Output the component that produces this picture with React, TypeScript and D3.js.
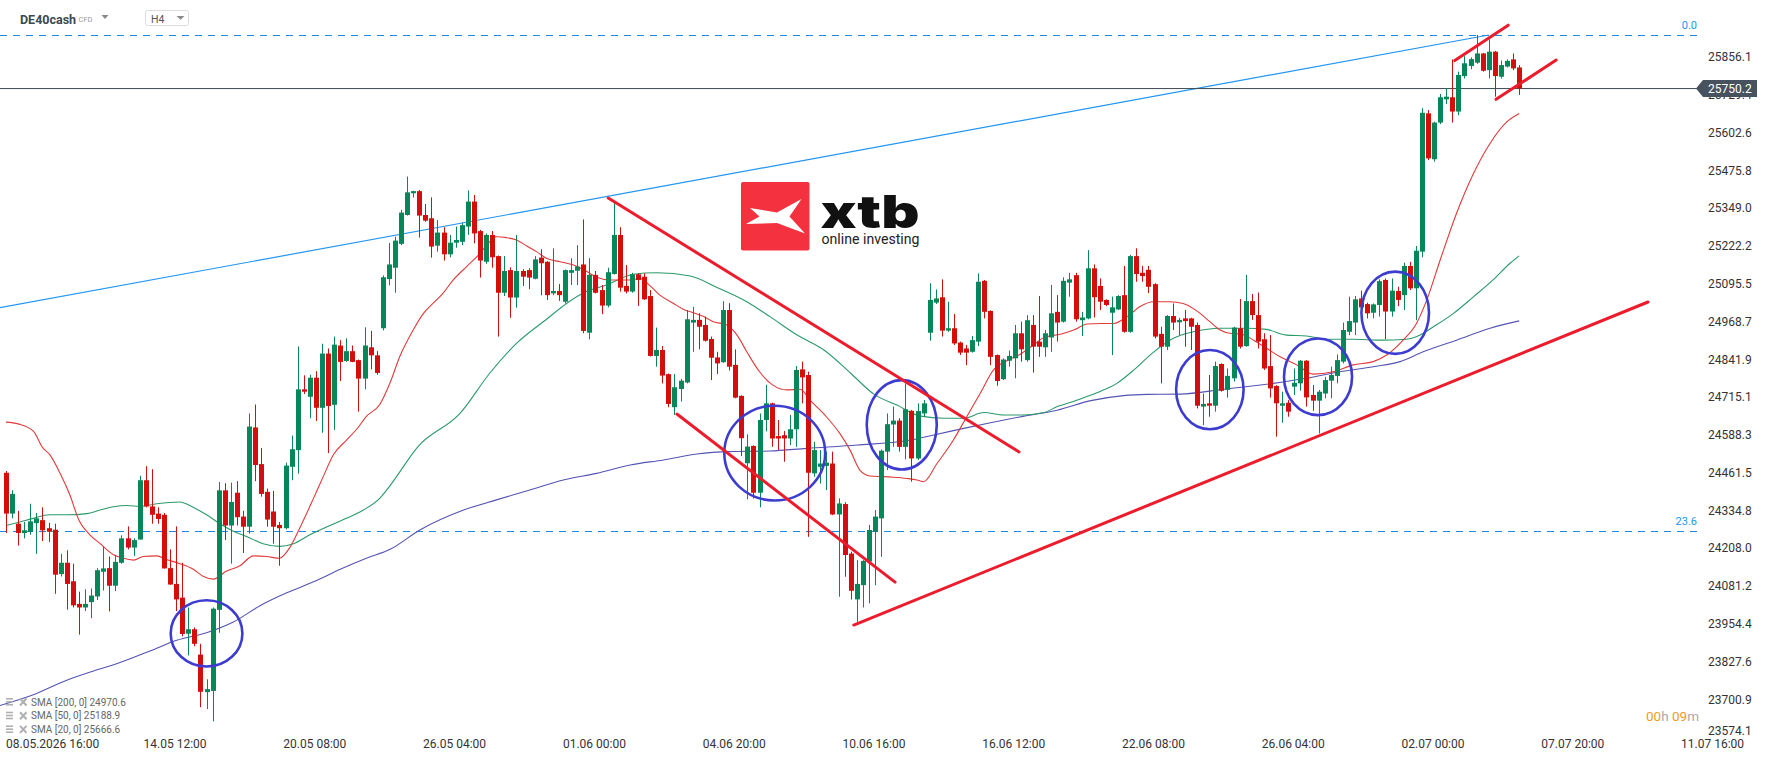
import React from 'react';
import * as d3 from 'd3';

const W = 1768;
const H = 761;

// OHLC per H4 bar: [open, high, low, close]
const barsA: [number, number, number, number][] = [
  [24461, 24467, 24259, 24324], [24324, 24402, 24308, 24390], [24290, 24333, 24217, 24259], [24259, 24296, 24241, 24268],
  [24263, 24357, 24253, 24298], [24292, 24326, 24189, 24308], [24302, 24345, 24232, 24268], [24275, 24293, 24229, 24263],
  [24270, 24290, 24055, 24119], [24121, 24189, 24113, 24159], [24159, 24201, 24002, 24088], [24097, 24156, 24009, 24016],
  [24021, 24062, 23918, 24009], [24009, 24070, 23997, 24021], [24027, 24073, 23973, 24049], [24046, 24141, 24034, 24134],
  [24129, 24214, 24066, 24140], [24141, 24180, 23996, 24082], [24082, 24184, 24064, 24162], [24159, 24251, 24156, 24241],
  [24241, 24281, 24204, 24210], [24210, 24241, 24182, 24235], [24237, 24451, 24237, 24436], [24436, 24483, 24345, 24348],
  [24348, 24473, 24290, 24320], [24324, 24345, 24290, 24306], [24320, 24326, 24140, 24140], [24141, 24204, 24085, 24086],
  [24088, 24281, 23997, 24036], [24042, 24159, 23912, 23920], [23921, 24009, 23848, 23936], [23936, 23942, 23879, 23887],
  [23851, 23887, 23674, 23726], [23725, 23768, 23668, 23735], [23729, 24009, 23627, 24005], [24001, 24430, 23924, 24402],
  [24402, 24426, 24235, 24284], [24284, 24428, 24156, 24363], [24394, 24433, 24284, 24312], [24314, 24333, 24192, 24280],
  [24280, 24660, 24257, 24616], [24613, 24690, 24433, 24487], [24490, 24544, 24381, 24390], [24397, 24408, 24280, 24304],
  [24331, 24400, 24223, 24280], [24286, 24296, 24149, 24275], [24275, 24495, 24271, 24485], [24481, 24586, 24436, 24540],
  [24537, 24885, 24458, 24741], [24741, 24788, 24725, 24733], [24716, 24790, 24644, 24780], [24780, 24802, 24635, 24679],
  [24679, 24894, 24595, 24861], [24861, 24878, 24527, 24685], [24689, 24918, 24605, 24891], [24888, 24906, 24769, 24833],
  [24836, 24912, 24833, 24869], [24869, 24888, 24832, 24833], [24839, 24841, 24666, 24777], [24777, 24949, 24741, 24888],
  [24882, 24937, 24808, 24855], [24855, 24869, 24790, 24796], [24946, 25123, 24939, 25117], [25111, 25232, 25090, 25160],
];
const barsB: [number, number, number, number][] = [
  [25149, 25253, 25065, 25240], [25229, 25343, 25225, 25334], [25326, 25455, 25324, 25402], [25399, 25407, 25385, 25406],
  [25406, 25410, 25250, 25324], [25326, 25363, 25303, 25307], [25315, 25385, 25183, 25220], [25223, 25309, 25203, 25267],
  [25267, 25285, 25173, 25194], [25194, 25259, 25184, 25233], [25233, 25287, 25216, 25242], [25236, 25300, 25225, 25292],
  [25287, 25408, 25259, 25371], [25371, 25393, 25231, 25264], [25272, 25276, 25116, 25173], [25169, 25264, 25162, 25259],
  [25259, 25272, 25149, 25184], [25188, 25190, 24918, 25065], [25065, 25188, 25054, 25138], [25141, 25150, 24981, 25049],
  [25049, 25259, 25015, 25138], [25138, 25144, 25088, 25119], [25141, 25147, 25077, 25116], [25112, 25188, 25110, 25177],
  [25183, 25211, 25057, 25164], [25169, 25171, 25041, 25057], [25063, 25214, 25057, 25071], [25071, 25094, 25038, 25057],
  [25035, 25143, 25029, 25141], [25132, 25181, 25091, 25141], [25139, 25225, 25091, 25153], [25160, 25311, 24929, 24937],
  [24931, 25181, 24909, 25125], [25125, 25138, 25063, 25065], [25074, 25091, 24993, 25022], [25022, 25149, 25016, 25134],
  [25128, 25371, 25126, 25259], [25259, 25285, 25069, 25082], [25088, 25158, 25063, 25069], [25069, 25132, 25065, 25127],
  [25127, 25130, 25021, 25108], [25119, 25130, 25041, 25043], [25054, 25074, 24851, 24853], [24853, 24948, 24817, 24873],
  [24873, 24886, 24761, 24787], [24792, 24794, 24681, 24692], [24681, 24792, 24655, 24748], [24742, 24776, 24700, 24770],
  [24764, 25007, 24761, 24976], [24965, 25018, 24867, 24974], [24974, 24996, 24875, 24951], [24957, 24985, 24901, 24904],
  [24910, 24918, 24772, 24847], [24848, 24867, 24792, 24828], [24832, 25037, 24830, 25007], [25007, 25030, 24804, 24817],
  [24823, 24875, 24711, 24713], [24719, 24721, 24517, 24577], [24493, 24590, 24372, 24549], [24551, 24553, 24375, 24394],
  [24394, 24660, 24345, 24638], [24638, 24756, 24600, 24694],
];
const barsC: [number, number, number, number][] = [
  [24694, 24696, 24548, 24576], [24584, 24638, 24537, 24576], [24587, 24601, 24498, 24576], [24576, 24655, 24554, 24607],
  [24607, 24819, 24548, 24806], [24808, 24834, 24694, 24781], [24789, 24800, 24246, 24461], [24459, 24565, 24448, 24537],
  [24481, 24537, 24425, 24492], [24484, 24532, 24403, 24495], [24492, 24532, 24319, 24321], [24321, 24375, 24045, 24358],
  [24356, 24362, 24112, 24185], [24190, 24196, 24036, 24065], [24036, 24168, 23961, 24088], [24084, 24168, 24009, 24165],
  [24163, 24286, 24023, 24269], [24263, 24336, 24084, 24314], [24308, 24539, 24179, 24535], [24532, 24660, 24470, 24624],
  [24623, 24683, 24548, 24636], [24636, 24644, 24532, 24548], [24548, 24761, 24506, 24674], [24669, 24671, 24431, 24509],
  [24509, 24694, 24504, 24668], [24660, 24705, 24649, 24694], [24931, 25097, 24904, 25041], [25032, 25076, 25027, 25046],
  [25050, 25110, 24918, 24938], [24938, 25035, 24934, 24946], [24946, 24994, 24890, 24895], [24898, 24901, 24856, 24864],
  [24878, 24890, 24822, 24864], [24867, 24920, 24864, 24906], [24901, 25130, 24886, 25102], [25105, 25108, 24979, 25001],
  [25004, 25006, 24822, 24850], [24856, 24858, 24753, 24769], [24775, 24845, 24772, 24841], [24837, 24871, 24817, 24853],
  [24845, 24957, 24778, 24929], [24929, 24968, 24834, 24875], [24839, 24990, 24834, 24973], [24957, 24990, 24797, 24884],
  [24901, 25054, 24850, 24884], [24882, 24940, 24850, 24929], [24915, 25091, 24867, 24996], [25001, 25057, 24901, 24965],
  [24968, 25117, 24965, 25105], [25099, 25132, 25052, 25110], [25124, 25132, 24968, 24976], [24973, 25001, 24920, 24982],
  [24979, 25208, 24976, 25147], [25147, 25160, 24982, 25050], [25088, 25113, 25007, 25035], [25041, 25043, 25020, 25024],
  [24998, 25052, 24856, 25016], [25009, 25057, 25007, 25054], [25057, 25155, 24931, 24934], [24934, 25192, 24931, 25188],
  [25188, 25214, 25102, 25128], [25132, 25155, 25102, 25121], [25142, 25155, 25064, 25085],
];
const barsD: [number, number, number, number][] = [
  [25094, 25097, 24912, 24918], [24927, 24951, 24761, 24884], [24884, 24990, 24873, 24987], [24987, 25029, 24940, 24965],
  [24966, 24981, 24923, 24974], [24979, 25007, 24884, 24970], [24979, 24981, 24873, 24951], [24957, 24965, 24677, 24686],
  [24683, 24727, 24621, 24692], [24694, 24789, 24649, 24686], [24686, 24834, 24666, 24819], [24826, 24828, 24733, 24736],
  [24739, 24811, 24713, 24786], [24778, 24951, 24767, 24948], [24946, 25044, 24878, 24884], [24886, 25125, 24884, 25037],
  [25037, 25061, 24974, 24990], [24990, 25066, 24878, 24901], [24909, 24929, 24806, 24811], [24819, 24923, 24713, 24744],
  [24752, 24755, 24582, 24694], [24686, 24733, 24629, 24694], [24696, 24705, 24649, 24666], [24750, 24811, 24722, 24763],
  [24761, 24839, 24736, 24837], [24837, 24839, 24683, 24714], [24722, 24755, 24669, 24703], [24703, 24739, 24593, 24733],
  [24727, 24783, 24711, 24772], [24770, 24817, 24711, 24789], [24786, 24858, 24761, 24839], [24834, 24965, 24828, 24940],
  [24934, 25052, 24923, 24970], [24965, 25054, 24923, 25043], [25046, 25072, 25007, 25016], [25027, 25032, 24979, 24996],
  [24998, 25029, 24979, 25026], [25024, 25110, 24985, 25104], [25108, 25113, 24909, 25002], [25002, 25113, 24985, 25072],
  [25071, 25085, 25020, 25041], [25057, 25166, 25007, 25155], [25155, 25169, 25074, 25080], [25080, 25222, 24973, 25206],
  [25203, 25684, 25184, 25669], [25667, 25678, 25510, 25516], [25513, 25639, 25505, 25636], [25636, 25732, 25631, 25721],
  [25714, 25751, 25698, 25723], [25721, 25848, 25636, 25673], [25673, 25807, 25661, 25796], [25792, 25859, 25784, 25835],
  [25826, 25855, 25815, 25849], [25837, 25930, 25833, 25868], [25868, 25870, 25807, 25810], [25812, 25915, 25784, 25874],
  [25874, 25876, 25723, 25792], [25790, 25844, 25784, 25829], [25824, 25848, 25821, 25843], [25848, 25868, 25812, 25818],
  [25821, 25829, 25729, 25750.2],
];

// moving averages sampled along the bar axis: [bar, value]
const sma20: [number, number][] = [
  [0, 24631], [2, 24625], [4.5, 24601], [6, 24546], [7.2, 24522], [9, 24455], [10.5, 24387], [12, 24302], [13.8, 24253],
  [15.5, 24223], [17.7, 24186], [19.3, 24174], [21, 24168], [22.6, 24180], [24.8, 24182], [26.4, 24170], [28.6, 24156],
  [30.8, 24137], [32.5, 24113], [34.1, 24104], [36.3, 24131], [38.5, 24149], [40.7, 24182], [42.9, 24180], [45, 24174],
  [46.7, 24210], [48.4, 24278], [50.6, 24375], [52.2, 24448], [53.9, 24522], [56, 24570], [57.7, 24607], [59.3, 24650],
  [61.5, 24690], [63.2, 24763], [64.8, 24851], [67, 24940], [68.7, 24996], [70.3, 25030], [71.9, 25063], [73.6, 25108],
  [75.8, 25153], [78, 25197], [79.6, 25236], [80.7, 25253], [82.4, 25250], [84, 25242], [85.7, 25222], [87.3, 25203],
  [89, 25180], [91.2, 25169], [93.4, 25158], [95.6, 25136], [97.2, 25117], [99.4, 25108], [101, 25108], [102.7, 25108],
  [104.3, 25113], [106, 25088], [107.6, 25057], [109.8, 25030], [111.5, 25009], [113.1, 24998], [114.8, 24985],
  [116.4, 24968], [118.6, 24957], [120.3, 24923], [121.9, 24867], [124, 24800], [126.2, 24755], [128.5, 24739],
  [130.7, 24741], [132.3, 24705], [135, 24649], [137.2, 24593], [138.9, 24537], [140.5, 24470], [142.2, 24450],
  [144.4, 24448], [146, 24446], [148.2, 24442], [149.9, 24437], [151, 24431], [153.2, 24492], [155.9, 24571],
  [158.1, 24649], [160.3, 24727], [162.5, 24806], [164.7, 24837], [166.9, 24859], [169.1, 24890], [170.8, 24915],
  [173.5, 24926], [175.7, 24940], [177.9, 24960], [180.1, 24962], [182.3, 24962], [184.5, 24985], [186.7, 25020],
  [188.8, 25035], [191.5, 25035], [193.7, 25029], [196.5, 24996], [198.1, 24968], [199.8, 24940], [201.4, 24929],
  [203.1, 24927], [205.3, 24906], [207.4, 24879], [209.6, 24851], [212.4, 24823], [215.1, 24792], [218.4, 24800],
  [221.7, 24823], [225, 24834], [227.2, 24856], [229.9, 24906], [232.1, 24962], [233.8, 25041], [236, 25175],
  [238.7, 25332], [241.5, 25466], [244.2, 25566], [247, 25639], [249, 25666.6],
];
const sma50: [number, number][] = [
  [0, 24284], [2.3, 24296], [4.5, 24308], [7.2, 24320], [10, 24320], [13.3, 24324], [15.5, 24336], [17.7, 24347],
  [19.9, 24351], [22, 24348], [24.8, 24357], [28.6, 24363], [30.8, 24345], [33, 24320], [35.2, 24290], [37.4, 24265],
  [39.6, 24247], [42.3, 24223], [45.1, 24214], [47.3, 24223], [50, 24253], [53.3, 24284], [56, 24308], [58.8, 24336],
  [61.5, 24375], [63.2, 24418], [67.8, 24549], [74.7, 24660], [79.6, 24795], [84, 24895], [89, 24977], [92.3, 25030],
  [95.5, 25069], [98.8, 25091], [103.2, 25127], [107.1, 25132], [112.6, 25121], [117, 25083], [121.9, 25035],
  [125.7, 24985], [130.2, 24923], [134.6, 24873], [139, 24795], [142.8, 24725], [146.6, 24688], [150.5, 24651],
  [154.3, 24644], [157.6, 24644], [160.9, 24663], [164.2, 24655], [167.5, 24655], [170.8, 24663], [173, 24683],
  [176.3, 24705], [179.6, 24730], [182.8, 24761], [185.6, 24806], [188.5, 24860], [192.1, 24912], [195.4, 24934],
  [199.8, 24946], [204.2, 24946], [207.4, 24942], [210.7, 24923], [214, 24920], [217.3, 24909], [221.7, 24909],
  [226.1, 24906], [230.5, 24909], [232.7, 24923], [234.9, 24951], [238.2, 24996], [241.5, 25052], [244.7, 25108],
  [247.5, 25164], [249, 25188.9],
];
const sma200: [number, number][] = [
  [-1, 23680], [4.5, 23716], [10, 23765], [14.4, 23796], [18.2, 23820], [23.7, 23863], [28.1, 23899], [33, 23924],
  [37.4, 23960], [41.8, 24015], [46.2, 24058], [50.6, 24095], [55, 24137], [59.3, 24174], [63.2, 24204], [68.1, 24269],
  [75.3, 24336], [80.7, 24370], [86.2, 24403], [91.7, 24437], [97.2, 24459], [102.7, 24487], [108.2, 24504],
  [113.7, 24524], [119.1, 24532], [125.7, 24534], [131.8, 24543], [140.1, 24554], [148.3, 24569], [152.7, 24588],
  [157.6, 24610], [162, 24629], [167.5, 24651], [173, 24671], [178.5, 24703], [183.9, 24720], [187.8, 24724],
  [193.2, 24725], [200.3, 24741], [208.5, 24761], [214, 24778], [219.5, 24800], [225, 24817], [229.4, 24834],
  [233.2, 24867], [238.7, 24906], [244.2, 24946], [249, 24970.6],
];

const yTickLabels = ['25856.1', '25729.4', '25602.6', '25475.8', '25349.0', '25222.2', '25095.5', '24968.7', '24841.9',
  '24715.1', '24588.3', '24461.5', '24334.8', '24208.0', '24081.2', '23954.4', '23827.6', '23700.9', '23574.1'];
const xLabelBars = [4, 27, 50, 73, 96, 119, 142, 165, 188, 211, 234, 257, 280];
const xLabelTexts = ['08.05.2026 16:00', '14.05 12:00', '20.05 08:00', '26.05 04:00', '01.06 00:00', '04.06 20:00',
  '10.06 16:00', '16.06 12:00', '22.06 08:00', '26.06 04:00', '02.07 00:00', '07.07 20:00', '11.07 16:00'];

const lastPrice = 25750.2;
const fibLevels: [number, string][] = [[25930, '0.0'], [24266, '23.6']];
const blueTrend: [number, number][] = [[-1, 25015], [244, 25930]];
const redLines: [number, number][][] = [
  [[99.1, 25383], [166.7, 24531]],
  [[110.4, 24658], [146.3, 24094]],
  [[139.5, 23950], [270.2, 25034]],
  [[238.4, 25844], [247.2, 25963]],
  [[245.2, 25714], [255.1, 25846]],
];
// ellipses: [center bar, center price, half-width in bars, half-height in price]
const circles: [number, number, number, number][] = [
  [33.0, 23922, 5.9, 111],
  [126.5, 24527, 8.3, 159],
  [147.4, 24622, 5.76, 150],
  [198.1, 24740, 5.55, 133],
  [215.9, 24783, 5.6, 128.5],
  [228.6, 24998, 5.56, 138],
];
const legendRows = ['SMA [200, 0] 24970.6', 'SMA [50, 0] 25188.9', 'SMA [20, 0] 25666.6'];

const GREEN = '#06875a';
const RED = '#d40d0d';
const FONT = 'Roboto, "Noto Sans", sans-serif';

export default function App() {
  const candles = [...barsA, ...barsB, ...barsC, ...barsD];
  const n = candles.length;
  const step = 6.077;
  const x = d3.scaleLinear().domain([0, n - 1]).range([6, 6 + (n - 1) * step]);
  const y = d3.scaleLinear().domain([23574.1, 25856.1]).range([737.08, 57]);
  const line = d3.line<[number, number]>().x(d => x(d[0])).y(d => y(d[1])).curve(d3.curveMonotoneX);
  const straight = d3.line<[number, number]>().x(d => x(d[0])).y(d => y(d[1]));
  const bw = 5;
  const plotRight = 1697;
  const py = y(lastPrice);
  const pxPerBar = step;
  const pxPerPrice = Math.abs(y(1) - y(0));

  return (
    <svg width={W} height={H} style={{ position: 'absolute', left: 0, top: 0, background: '#fff' }} fontFamily={FONT}>
      <rect x={0} y={0} width={W} height={H} fill="#fff" />

      {/* header */}
      <text x={20} y={23.5} fontSize={12.5} fontWeight={700} fill="#3d4852">DE40cash</text>
      <text x={78.5} y={21.5} fontSize={7.5} fill="#999">CFD</text>
      <path d="M101.5,15 L108.5,15 L105,19 Z" fill="#8a8a8a" />
      <rect x={145.5} y={10.5} width={43} height={15} rx={2} fill="#fff" stroke="#dcdcdc" />
      <text x={151} y={22.5} fontSize={10.5} fill="#555">H4</text>
      <path d="M176.5,16 L184.5,16 L180.5,19.8 Z" fill="#8a8a8a" />

      {/* fib levels */}
      {fibLevels.map(([v, lab]) => (
        <g key={lab}>
          <line x1={0} x2={plotRight} y1={Math.round(y(v)) + 0.5} y2={Math.round(y(v)) + 0.5} stroke="#1e88e5" strokeWidth={1} strokeDasharray="7,6" />
          <text x={plotRight} y={y(v) - 5.5} fontSize={11} fill="#2196f3" textAnchor="end">{lab}</text>
        </g>
      ))}

      {/* blue trend line */}
      <path d={straight(blueTrend) || ''} stroke="#2196f3" strokeWidth={1.2} fill="none" />

      {/* last price line */}
      <line x1={0} x2={plotRight} y1={py} y2={py} stroke="#3f4b55" strokeWidth={1} />

      {/* SMAs */}
      <path d={line(sma200) || ''} stroke="#5454b4" strokeWidth={1.1} fill="none" />
      <path d={line(sma50) || ''} stroke="#2a9a6c" strokeWidth={1.1} fill="none" />
      <path d={line(sma20) || ''} stroke="#e23a3a" strokeWidth={1.1} fill="none" />

      {/* candles */}
      {candles.map((c, i) => {
        const [o, h, l, cl] = c;
        const up = cl >= o;
        const col = up ? GREEN : RED;
        const cx = x(i);
        const top = y(Math.max(o, cl));
        const bot = y(Math.min(o, cl));
        return (
          <g key={i}>
            <line x1={Math.round(cx) + 0.5} x2={Math.round(cx) + 0.5} y1={y(h)} y2={y(l)} stroke={col} strokeWidth={1} />
            <rect x={Math.round(cx) + 0.5 - bw / 2} y={top} width={bw} height={Math.max(1, bot - top)} fill={col} />
          </g>
        );
      })}

      {/* circles */}
      {circles.map(([b, p, rb, rp], i) => (
        <ellipse key={i} cx={x(b)} cy={y(p)} rx={rb * pxPerBar} ry={rp * pxPerPrice} fill="none" stroke="#3c3cd0" strokeWidth={2.6} />
      ))}

      {/* red lines */}
      {redLines.map((pts, i) => (
        <path key={i} d={straight(pts) || ''} stroke="#ec1c2c" strokeWidth={3} fill="none" strokeLinecap="round" />
      ))}

      {/* xtb logo */}
      <g>
        <rect x={741} y={182} width={68.5} height={68.5} rx={2} fill="#f4323f" />
        <path d="M750,208 L777,212.5 L801.5,199 L789.5,216.5 L805,233.5 L777,223 L746,224 L759.5,216.5 Z" fill="#fff" />
        <text x={820.5} y={227.5} fontSize={45} fontWeight={900} fill="#111" fontFamily="Inter, Roboto, sans-serif" textLength={99} lengthAdjust="spacingAndGlyphs">xtb</text>
        <text x={821.5} y={244} fontSize={14} fontWeight={400} fill="#222" fontFamily="Roboto, sans-serif" textLength={98} lengthAdjust="spacingAndGlyphs">online investing</text>
      </g>

      {/* y axis labels */}
      {yTickLabels.map((t) => {
        const cy = Math.min(y(+t), 730.6);
        return <text key={t} x={1708} y={cy + 4.3} fontSize={12} fill="#333">{t}</text>;
      })}

      {/* last price tag */}
      <path d={`M1696,${py} L1703,${py - 8.5} H1757 V${py + 8.5} H1703 Z`} fill="#46535e" />
      <text x={1708} y={py + 4.3} fontSize={12} fill="#fff">{lastPrice.toFixed(1)}</text>

      {/* x axis labels */}
      {xLabelBars.map((b, i) => {
        const cx = x(b) + 5;
        const first = i === 0;
        return (
          <text key={b} x={first ? 6 : cx} y={747.5} fontSize={12} fill="#333" textAnchor={first ? 'start' : 'middle'}>{xLabelTexts[i]}</text>
        );
      })}

      {/* legend */}
      {legendRows.map((t, i) => {
        const cy = 702 + i * 13.7;
        return (
          <g key={t}>
            <rect x={6} y={cy - 4} width={7} height={1.6} fill="#b0b0b0" />
            <rect x={6} y={cy - 1} width={7} height={1.6} fill="#b0b0b0" />
            <rect x={6} y={cy + 2} width={7} height={1.6} fill="#b0b0b0" />
            <path d={`M20,${cy - 3.5} L26.5,${cy + 3.5} M26.5,${cy - 3.5} L20,${cy + 3.5}`} stroke="#b0b0b0" strokeWidth={2} />
            <text x={31} y={cy + 3.6} fontSize={10} fill="#666">{t}</text>
          </g>
        );
      })}

      {/* countdown */}
      <text x={1699} y={721} fontSize={13.5} textAnchor="end">
        <tspan fill="#f39a1e">00</tspan><tspan fill="#aaa">h </tspan><tspan fill="#f39a1e">09</tspan><tspan fill="#aaa">m</tspan>
      </text>
    </svg>
  );
}
